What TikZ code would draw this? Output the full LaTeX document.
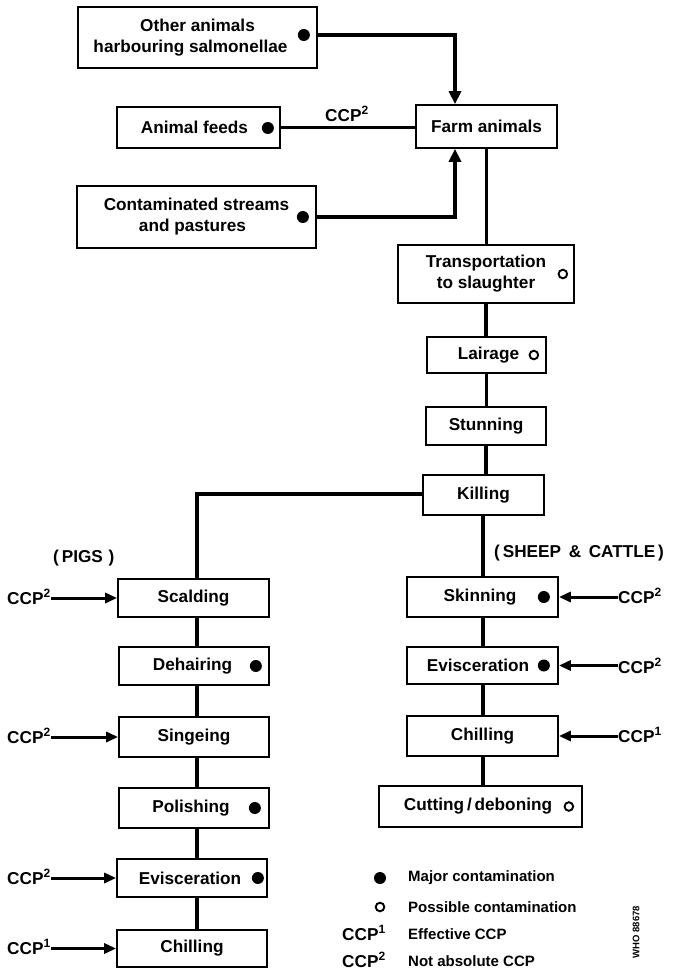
\documentclass[tikz,border=0pt]{standalone}
\usepackage{fontspec}
\setmainfont{Liberation Sans}
\usetikzlibrary{arrows.meta,calc}
\begin{document}
\begin{tikzpicture}[x=1pt,y=-1pt,
  box/.style={draw,line width=1.7pt,inner sep=0pt,align=center,
    font=\fontsize{17.2}{21}\bfseries\selectfont},
  lbl/.style={inner sep=0pt,font=\fontsize{17.2}{19}\bfseries\selectfont},
  legtext/.style={inner sep=0pt,anchor=west,font=\fontsize{15}{17}\bfseries\selectfont},
  conn/.style={line width=3.5pt},
  intip/.style={-{Triangle[length=13pt,width=12pt]}},
  ccparrow/.style={line width=3pt,-{Triangle[length=12pt,width=10pt]}},
  major/.style={fill=black},
  possible/.style={draw=black,line width=1.9pt,fill=white},
]
\useasboundingbox (0,0) rectangle (680,971);

% ---- sources feeding the farm ----
\node[box,minimum width=239pt,minimum height=61pt] (oth) at (197.5,37.5)
  {Other animals\\harbouring salmonellae\hspace*{14pt}};
\node[box,minimum width=163pt,minimum height=41pt] (feed) at (198.5,127.5)
  {Animal feeds\hspace*{8pt}};
\node[box,minimum width=239pt,minimum height=62pt] (strm) at (196.5,217)
  {Contaminated streams\\and pastures\hspace*{8pt}};
\node[box,minimum width=141pt,minimum height=43pt] (farm) at (486.5,126.5)
  {Farm animals};

% ---- common line ----
\node[box,minimum width=176pt,minimum height=58pt] (trans) at (486,274)
  {Transportation\\to slaughter};
\node[box,minimum width=119pt,minimum height=36pt] (lair) at (486.5,355)
  {\hspace*{4pt}Lairage};
\node[box,minimum width=120pt,minimum height=38pt] (stun) at (486,426)
  {Stunning};
\node[box,minimum width=121pt,minimum height=40pt] (kill) at (483.5,495)
  {Killing};

% ---- pigs ----
\node[box,minimum width=151pt,minimum height=38pt] (scald) at (193.5,598) {Scalding};
\node[box,minimum width=150pt,minimum height=38pt] (dehair) at (194,666) {Dehairing\hspace*{3pt}};
\node[box,minimum width=150pt,minimum height=40pt] (singe) at (194,737) {Singeing};
\node[box,minimum width=150pt,minimum height=40pt] (polish) at (194,808) {Polishing\hspace*{6pt}};
\node[box,minimum width=150pt,minimum height=38pt] (evisp) at (192,878) {Evisceration\hspace*{4pt}};
\node[box,minimum width=150pt,minimum height=37pt] (chillp) at (192,948.5) {Chilling};

% ---- sheep and cattle ----
\node[box,minimum width=151pt,minimum height=40pt] (skin) at (482.5,597) {Skinning\hspace*{5pt}};
\node[box,minimum width=151pt,minimum height=37pt] (evisr) at (482.5,665.5) {Evisceration\hspace*{9pt}};
\node[box,minimum width=151pt,minimum height=40pt] (chillr) at (482.5,736) {Chilling};
\node[box,minimum width=203pt,minimum height=41pt] (cut) at (480.5,806.5) {Cutting\,/\,deboning\hspace*{5pt}};

% ---- contamination marks ----
\fill[major] ($(oth.east)+(-14,-2.5)$) circle (6);
\fill[major] ($(feed.east)+(-13,0.5)$) circle (6);
\fill[major] ($(strm.east)+(-14,0)$) circle (6);
\draw[possible] ($(trans.east)+(-12,0)$) circle (4.3);
\draw[possible] ($(lair.east)+(-13,0)$) circle (4.3);
\fill[major] ($(dehair.east)+(-14,0)$) circle (6);
\fill[major] ($(polish.east)+(-15,0)$) circle (6);
\fill[major] ($(evisp.east)+(-10,0)$) circle (6);
\fill[major] ($(skin.east)+(-15,0)$) circle (6);
\fill[major] ($(evisr.east)+(-15,0)$) circle (6);
\draw[possible] ($(cut.east)+(-14,0)$) circle (4.3);

% ---- connectors into the farm ----
\draw[conn,intip] (oth.east |- 0,35) -| ([xshift=-31.5]farm.north);
\draw[conn,intip] (strm.east) -| ([xshift=-31.5]farm.south);
\draw[conn] (feed.east) -- (farm.west |- feed.east);
\node[lbl] (ccpfeed) at (347,114) {CCP\textsuperscript{2}};

% ---- main line ----
\draw[conn] (farm.south) -- (farm.south |- trans.north);
\draw[conn] (trans.south) -- (trans.south |- lair.north);
\draw[conn] (lair.south) -- (lair.south |- stun.north);
\draw[conn] (stun.south) -- (stun.south |- kill.north);

% ---- branches ----
\coordinate (pigx) at (197,0);
\coordinate (cowx) at (483,0);
\draw[conn] (kill.west |- 0,494) -| (pigx |- scald.north);
\draw[conn] (cowx |- kill.south) -- (cowx |- skin.north);
\node[lbl,anchor=west] (pigs) at (53,558) {(\,PIGS\,\,)};
\node[lbl,anchor=west] (sheep) at (494,553) {(\,SHEEP \,\&\, CATTLE\,)};

\draw[conn] (pigx |- scald.south) -- (pigx |- dehair.north);
\draw[conn] (pigx |- dehair.south) -- (pigx |- singe.north);
\draw[conn] (pigx |- singe.south) -- (pigx |- polish.north);
\draw[conn] (pigx |- polish.south) -- (pigx |- evisp.north);
\draw[conn] (pigx |- evisp.south) -- (pigx |- chillp.north);

\draw[conn] (cowx |- skin.south) -- (cowx |- evisr.north);
\draw[conn] (cowx |- evisr.south) -- (cowx |- chillr.north);
\draw[conn] (cowx |- chillr.south) -- (cowx |- cut.north);

% ---- control points ----
\node[lbl,anchor=west] (c1) at (7,597) {CCP\textsuperscript{2}};
\node[lbl,anchor=west] (c2) at (7,736) {CCP\textsuperscript{2}};
\node[lbl,anchor=west] (c3) at (7,877) {CCP\textsuperscript{2}};
\node[lbl,anchor=west] (c4) at (7,947) {CCP\textsuperscript{1}};
\draw[ccparrow] (c1.east |- scald.west) -- (scald.west);
\draw[ccparrow] (c2.east |- singe.west) -- (singe.west);
\draw[ccparrow] (c3.east |- evisp.west) -- (evisp.west);
\draw[ccparrow] (c4.east |- chillp.west) -- (chillp.west);

\node[lbl,anchor=west] (c5) at (618,596) {CCP\textsuperscript{2}};
\node[lbl,anchor=west] (c6) at (618,666) {CCP\textsuperscript{2}};
\node[lbl,anchor=west] (c7) at (618,735) {CCP\textsuperscript{1}};
\draw[ccparrow] (c5.west |- skin.east) -- (skin.east);
\draw[ccparrow] (c6.west |- evisr.east) -- (evisr.east);
\draw[ccparrow] (c7.west |- chillr.east) -- (chillr.east);

% ---- legend ----
\fill[major] (380,878) circle (6);
\draw[possible] (380,907) circle (4.3);
\node[lbl] (k3) at (364,933) {CCP\textsuperscript{1}};
\node[lbl] (k4) at (364,960) {CCP\textsuperscript{2}};
\node[legtext] (t1) at (408,878) {Major contamination};
\node[legtext] (t2) at (408,907) {Possible contamination};
\node[legtext] (t3) at (408,934) {Effective CCP};
\node[legtext] (t4) at (408,961) {Not absolute CCP};
\node[inner sep=0pt,rotate=90,font=\fontsize{9.5}{11}\bfseries\selectfont] (who) at (636,932) {WHO 88678};
\end{tikzpicture}
\end{document}
